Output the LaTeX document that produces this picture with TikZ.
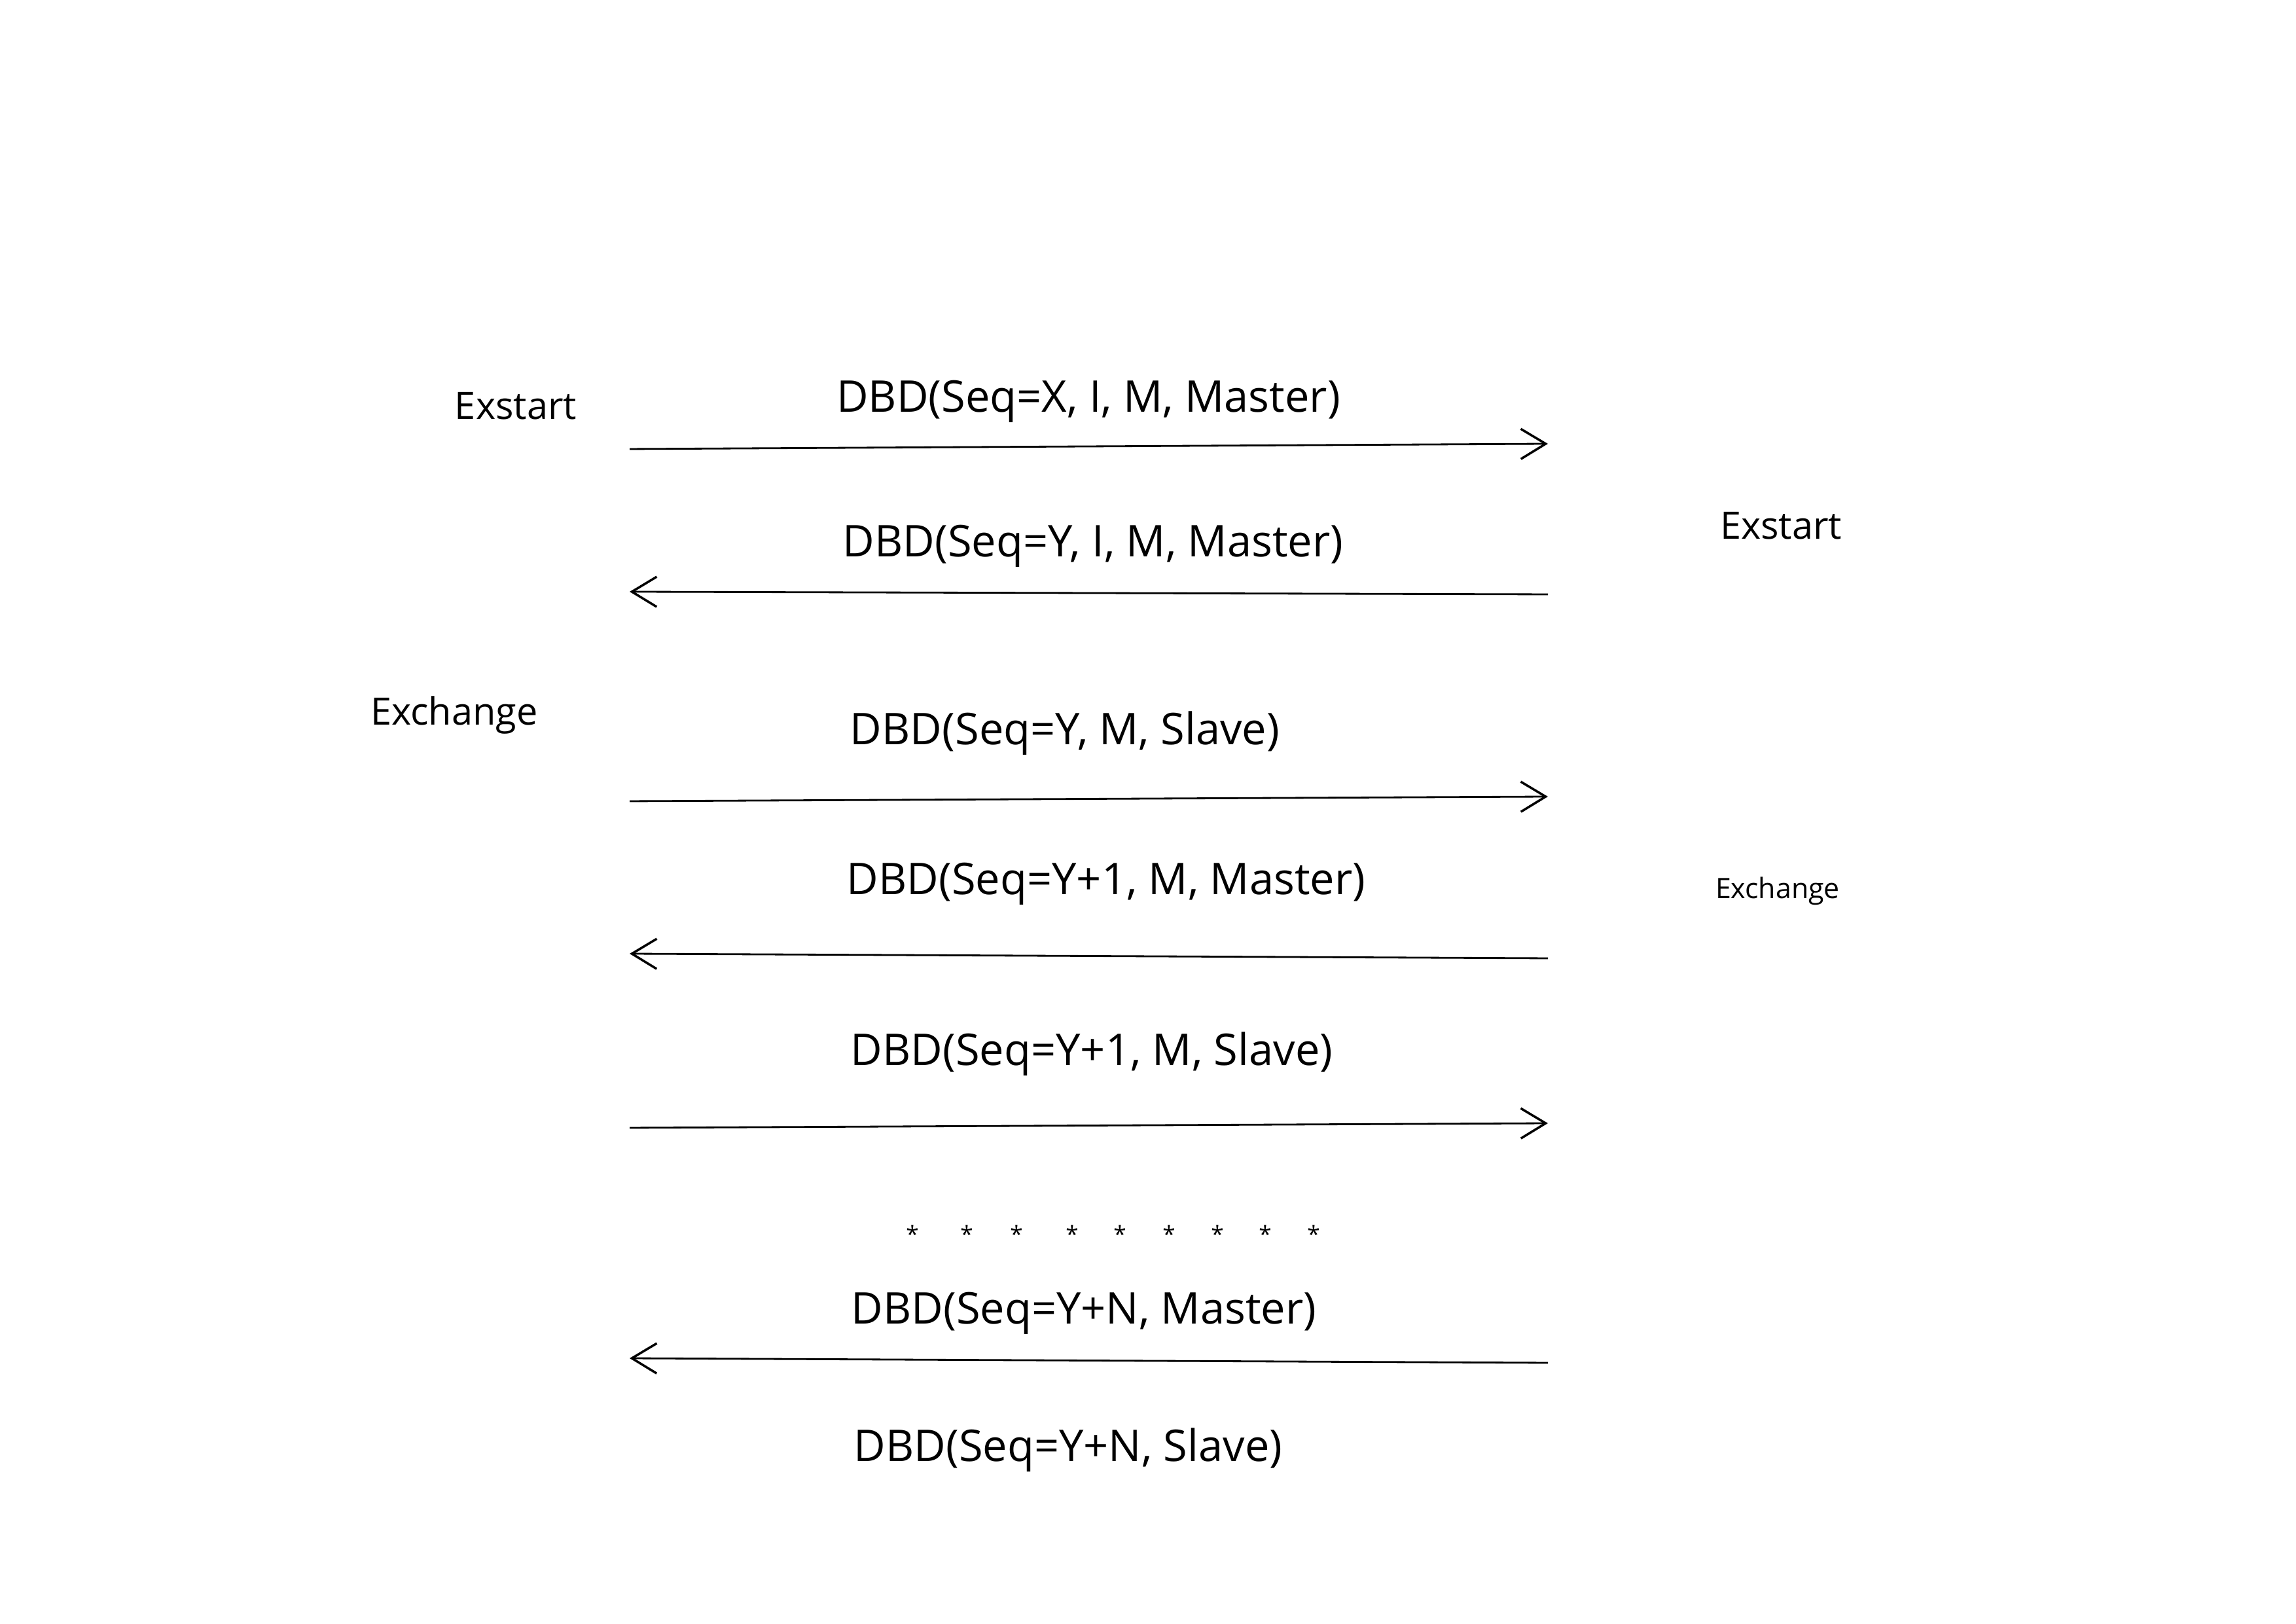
\documentclass[tikz,border=0pt]{standalone}
\usepackage{fontspec}
\setmainfont{Open Sans}
\usepackage{tikz}
\usetikzlibrary{arrows.meta}

\begin{document}
\begin{tikzpicture}[every node/.style={
    rectangle,
    inner sep=0pt,
  }, msg/.style={font=\fontsize{19}{22}\selectfont},
  state/.style={font=\fontsize{16.4}{19}\selectfont},
  link/.style={line width=0.8pt, -{Straight Barb[length=3.8mm, width=4.6mm, line width=1pt]}}]

  \useasboundingbox (0,0) rectangle (35.08,24.80);

  % end points of the messages
  \coordinate (l1) at (9.62,17.94);  \coordinate (r1) at (23.65,18.02);
  \coordinate (l2) at (9.62,15.76);  \coordinate (r2) at (23.65,15.72);
  \coordinate (l3) at (9.62,12.56);  \coordinate (r3) at (23.65,12.63);
  \coordinate (l4) at (9.62,10.23);  \coordinate (r4) at (23.65,10.16);
  \coordinate (l5) at (9.62,7.57);   \coordinate (r5) at (23.65,7.64);
  \coordinate (l6) at (9.62,4.05);   \coordinate (r6) at (23.65,3.98);

  \node[state] (s1) at (7.88,18.60) {Exstart};
  \node[state] (s2) at (27.21,16.77) {Exstart};
  \node[state] (s3) at (6.94,13.87) {Exchange};
  \node[state, font=\fontsize{12.2}{14}\selectfont] (s4) at (27.16,11.19) {Exchange};

  \node[msg] (m1) at (16.63,18.67) {DBD(Seq=X, I, M, Master)};
  \node[msg] (m2) at (16.70,16.46) {DBD(Seq=Y, I, M, Master)};
  \node[msg] (m3) at (16.27,13.60) {DBD(Seq=Y, M, Slave)};
  \node[msg] (m4) at (16.90,11.30) {DBD(Seq=Y+1, M, Master)};
  \node[msg] (m5) at (16.68,8.70) {DBD(Seq=Y+1, M, Slave)};
  \node[msg] (m6) at (16.56,4.74) {DBD(Seq=Y+N, Master)};
  \node[msg] (m7) at (16.32,2.65) {DBD(Seq=Y+N, Slave)};

  \draw[link] (l1) -- (r1);
  \draw[link] (r2) -- (l2);
  \draw[link] (l3) -- (r3);
  \draw[link] (r4) -- (l4);
  \draw[link] (l5) -- (r5);
  \draw[link] (r6) -- (l6);

  \foreach \x [count=\i] in {13.94,14.77,15.53,16.38,17.11,17.86,18.60,19.33,20.07}
    \node[font=\fontsize{10}{12}\selectfont] (d\i) at (\x,5.95) {*};

\end{tikzpicture}
\end{document}
